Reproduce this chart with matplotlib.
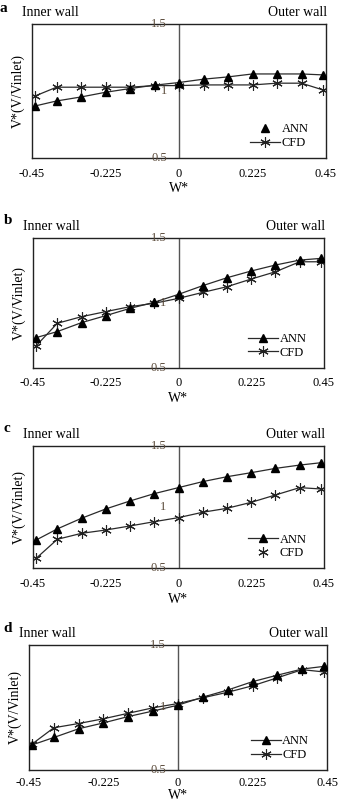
import matplotlib
matplotlib.use("Agg")
import matplotlib.pyplot as plt
from matplotlib.lines import Line2D
from matplotlib.transforms import offset_copy

plt.rcParams['font.family'] = ['Liberation Serif', 'DejaVu Serif']

# W* positions across the channel
w_star = [-0.44, -0.375, -0.3, -0.225, -0.15, -0.075, 0, 0.075, 0.15, 0.225, 0.3, 0.375, 0.44]

# Panel a
ann_a = [0.889, 0.926, 0.956, 0.991, 1.019, 1.044, 1.064, 1.089, 1.106, 1.128, 1.128, 1.128, 1.121]
cfd_a = [0.964, 1.029, 1.029, 1.029, 1.029, 1.041, 1.041, 1.046, 1.046, 1.046, 1.059, 1.059, 1.009]
# Panel b
ann_b = [0.731, 0.777, 0.846, 0.900, 0.956, 1.003, 1.064, 1.131, 1.192, 1.244, 1.290, 1.328, 1.341]
cfd_b = [0.669, 0.841, 0.892, 0.931, 0.969, 0.995, 1.033, 1.079, 1.123, 1.182, 1.238, 1.315, 1.315]
# Panel c
ann_c = [0.731, 0.821, 0.908, 0.984, 1.049, 1.109, 1.158, 1.207, 1.247, 1.280, 1.315, 1.342, 1.361]
cfd_c = [0.582, 0.736, 0.785, 0.812, 0.845, 0.880, 0.913, 0.957, 0.989, 1.038, 1.098, 1.158, 1.147]
# Panel d
ann_d = [0.699, 0.758, 0.828, 0.875, 0.926, 0.970, 1.017, 1.081, 1.138, 1.205, 1.257, 1.306, 1.327]
cfd_d = [0.707, 0.836, 0.870, 0.908, 0.952, 0.996, 1.030, 1.076, 1.120, 1.172, 1.236, 1.301, 1.283]

x_ticks = [-0.45, -0.225, 0, 0.225, 0.45]
x_ticklabels = ['-0.45', '-0.225', '0', '0.225', '0.45']
y_marks = [1.5, 1.0, 0.5]
y_marklabels = ['1.5', '1', '0.5']

panels = [
    # letter, ann, cfd, axes rect, legend ann line, legend cfd line, tick pad, xlabel pad
    ('a', ann_a, cfd_a, [0.094, 0.804, 0.862, 0.166], False, True, 7, 2),
    ('b', ann_b, cfd_b, [0.097, 0.544, 0.853, 0.161], True, True, 7, 2),
    ('c', ann_c, cfd_c, [0.097, 0.295, 0.853, 0.152], True, False, 7, 2),
    ('d', ann_d, cfd_d, [0.085, 0.045, 0.874, 0.155], True, True, 5, 0),
]
letter_pos = [(0.0, 0.998), (0.01, 0.735), (0.01, 0.477), (0.01, 0.228)]

fig = plt.figure(figsize=(3.41, 8.06), dpi=100)
line_col = '#2a2a2a'
star = (6, 2, 0)

for (letter, ann, cfd, rect, ann_line, cfd_line, tpad, xpad), (lx, ly) in zip(panels, letter_pos):
    ax = fig.add_axes(rect)
    ax.plot(w_star, cfd, color=line_col, lw=0.9, marker=star, ms=7.5, mew=0.8,
            mec='#222222', zorder=2)
    ax.plot(w_star, ann, color=line_col, lw=0.9, marker='^', ms=6,
            mfc='black', mec='black', zorder=3)
    ax.axvline(0, color='#555555', lw=1.0, zorder=1)

    ax.set_xlim(-0.45, 0.45)
    ax.set_ylim(0.5, 1.5)
    ax.set_xticks(x_ticks)
    ax.set_xticklabels(x_ticklabels, fontsize=9)
    ax.tick_params(axis='x', length=0, pad=tpad)
    ax.set_yticks([])
    for s in ax.spines.values():
        s.set_color('#222222')
        s.set_linewidth(1.0)

    # y values written next to the centre line
    tr = offset_copy(ax.transData, fig=fig, x=-12, y=0, units='dots')
    for v, lab in zip(y_marks, y_marklabels):
        ax.text(0, v, lab, transform=tr, ha='right', va='center',
                fontsize=9, color='#5a4a3a')

    ax.set_xlabel('W*', fontsize=10, labelpad=xpad)
    ax.set_ylabel('V*(V/Vinlet)', fontsize=10, labelpad=5)

    ax.text(-0.035, 1.04, 'Inner wall', transform=ax.transAxes, fontsize=10,
            ha='left', va='bottom')
    ax.text(1.005, 1.04, 'Outer wall', transform=ax.transAxes, fontsize=10,
            ha='right', va='bottom')
    fig.text(lx, ly, letter, fontsize=11, fontweight='bold', ha='left', va='top')

    h_ann = Line2D([], [], color=line_col if ann_line else 'none', lw=0.9,
                   marker='^', ms=6, mfc='black', mec='black')
    h_cfd = Line2D([], [], color=line_col if cfd_line else 'none', lw=0.9,
                   marker=star, ms=7.5, mew=0.8, mec='#222222')
    ax.legend([h_ann, h_cfd], ['ANN', 'CFD'], loc='lower right', frameon=False,
              fontsize=9, handlelength=2.4, handletextpad=0.1, labelspacing=0.15,
              borderaxespad=0.3, bbox_to_anchor=(0.97, 0.0))

fig.savefig('out.png', dpi=100)
